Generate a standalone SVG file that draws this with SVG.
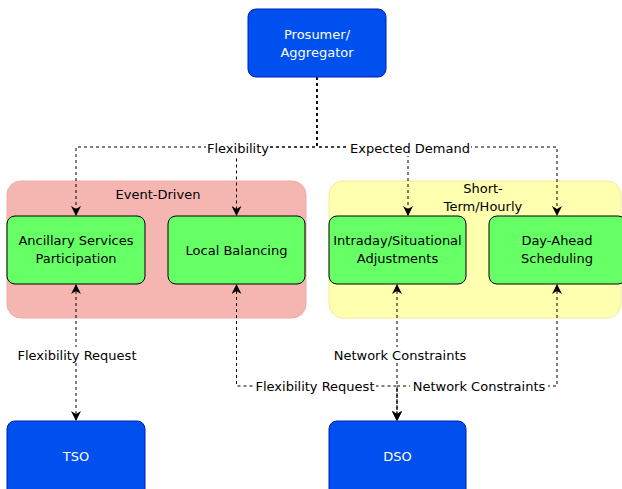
<svg xmlns="http://www.w3.org/2000/svg" width="622" height="489" viewBox="0 0 622 489">
<defs>
<marker id="ah" viewBox="0 0 10 10" refX="9" refY="5" markerWidth="10" markerHeight="10" markerUnits="userSpaceOnUse" orient="auto-start-reverse">
<path d="M0,0 L10,5 L0,10 L3,5 Z" fill="#000"/>
</marker>
<style>
text{font-family:"DejaVu Sans","Liberation Sans",sans-serif;font-size:13px;text-anchor:middle}
.blue{fill:#0050ef;stroke:#001dbc;stroke-width:1}
.green{fill:#66ff66;stroke:#000;stroke-width:1}
.wt{fill:#fff}
.bt{fill:#000}
.edge{fill:none;stroke:#000;stroke-width:1;stroke-dasharray:3 3}
.lbl{fill:#fff}
</style>
</defs>
<g id="group-event">
<rect x="7" y="181" width="299" height="137" rx="14" fill="#f5b6b2" stroke="#f0a9a5"/>
<text x="158" y="199" class="bt">Event-Driven</text>
</g>
<g id="group-short">
<rect x="329" y="181" width="292" height="137" rx="14" fill="#ffffb0" stroke="#f0eba0"/>
<text x="483" y="193" class="bt">Short-</text>
<text x="483" y="211" class="bt">Term/Hourly</text>
</g>
<g id="connectors">
<path class="edge" d="M317,77 V147 H76 V215" marker-end="url(#ah)"/>
<path class="edge" d="M317,77 V147 H236.5 V215" marker-end="url(#ah)"/>
<path class="edge" d="M317,77 V147 H408 V215" marker-end="url(#ah)"/>
<path class="edge" d="M317,77 V147 H557 V215" marker-end="url(#ah)"/>
<path class="edge" d="M76,285 V420" marker-start="url(#ah)" marker-end="url(#ah)"/>
<path class="edge" d="M236.5,285 V386 H397 V420" marker-start="url(#ah)" marker-end="url(#ah)"/>
<path class="edge" d="M397,285 V420" marker-start="url(#ah)" marker-end="url(#ah)"/>
<path class="edge" d="M557,285 V386 H397 V420" marker-start="url(#ah)" marker-end="url(#ah)"/>
<rect x="206" y="140" width="64" height="16" class="lbl"/>
<text x="238" y="153" class="bt">Flexibility</text>
<rect x="349" y="140" width="122" height="16" class="lbl"/>
<text x="410" y="153" class="bt">Expected Demand</text>
<rect x="16" y="347" width="122" height="16" class="lbl"/>
<text x="77" y="360" class="bt">Flexibility Request</text>
<rect x="332" y="347" width="136" height="16" class="lbl"/>
<text x="400" y="360" class="bt">Network Constraints</text>
<rect x="254" y="378" width="122" height="16" class="lbl"/>
<text x="315" y="391" class="bt">Flexibility Request</text>
<rect x="410" y="378" width="138" height="16" class="lbl"/>
<text x="479" y="391" class="bt">Network Constraints</text>
</g>
<g id="prosumer">
<rect x="248" y="9" width="138" height="68" rx="8" class="blue"/>
<text x="317" y="39" class="wt">Prosumer/</text>
<text x="317" y="57" class="wt">Aggregator</text>
</g>
<g id="ancillary">
<rect x="7" y="216" width="138" height="68" rx="8" class="green"/>
<text x="76" y="245" class="bt">Ancillary Services</text>
<text x="76" y="263" class="bt">Participation</text>
</g>
<g id="local">
<rect x="168" y="216" width="137" height="68" rx="8" class="green"/>
<text x="236.5" y="255" class="bt">Local Balancing</text>
</g>
<g id="intraday">
<rect x="329" y="216" width="137" height="68" rx="8" class="green"/>
<text x="397.5" y="245" class="bt">Intraday/Situational</text>
<text x="397.5" y="263" class="bt">Adjustments</text>
</g>
<g id="dayahead">
<rect x="489" y="216" width="137" height="68" rx="8" class="green"/>
<text x="557" y="245" class="bt">Day-Ahead</text>
<text x="557" y="263" class="bt">Scheduling</text>
</g>
<g id="tso">
<rect x="7" y="421" width="138" height="76" rx="8" class="blue"/>
<text x="76" y="461" class="wt">TSO</text>
</g>
<g id="dso">
<rect x="329" y="421" width="137" height="76" rx="8" class="blue"/>
<text x="397.5" y="461" class="wt">DSO</text>
</g>
</svg>
